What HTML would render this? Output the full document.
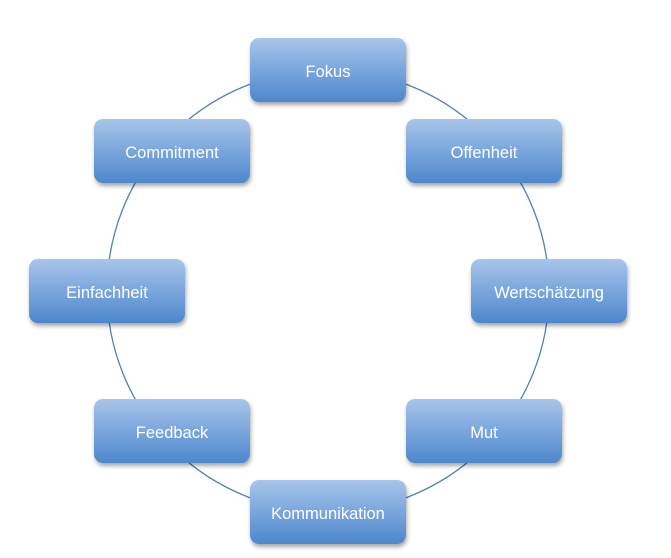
<!DOCTYPE html>
<html><head><meta charset="utf-8"><style>
html,body{margin:0;padding:0;background:#fff;}
body{width:671px;height:558px;position:relative;overflow:hidden;font-family:"Liberation Sans","DejaVu Sans",sans-serif;}
svg{position:absolute;left:0;top:0;}
.b{position:absolute;width:156px;height:64px;box-sizing:border-box;padding-top:5px;border-radius:9px;
background:linear-gradient(#a9c6ea,#7aa6dd 50%,#4d87cc);
box-shadow:1px 3px 4px rgba(0,0,0,0.35);
color:#fff;font-size:16.5px;display:flex;align-items:center;justify-content:center;}
</style></head><body>
<svg width="671" height="558"><circle cx="328" cy="291" r="221" fill="none" stroke="#4f81bd" stroke-width="1.3"/></svg>
<div class="b" style="left:250px;top:38px">Fokus</div>
<div class="b" style="left:406px;top:119px">Offenheit</div>
<div class="b" style="left:471px;top:259px">Wertschätzung</div>
<div class="b" style="left:406px;top:399px">Mut</div>
<div class="b" style="left:250px;top:480px">Kommunikation</div>
<div class="b" style="left:94px;top:399px">Feedback</div>
<div class="b" style="left:29px;top:259px">Einfachheit</div>
<div class="b" style="left:94px;top:119px">Commitment</div>
</body></html>
